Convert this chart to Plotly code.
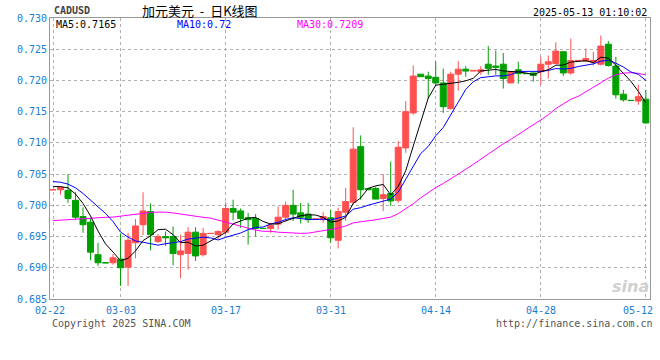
import plotly.graph_objects as go
import pandas as pd

# ---------------- data ----------------
dates = pd.date_range("2025-02-22", "2025-05-12", freq="D").strftime("%m-%d").tolist()

open_ = [0.7025, 0.7025, 0.7024, 0.7008, 0.6982, 0.6973, 0.6921, 0.6908, 0.6908, 0.6914,
         0.6901, 0.6940, 0.6969, 0.6990, 0.6942, 0.6950, 0.6950, 0.6921, 0.6923, 0.6957,
         0.6921, 0.6955, 0.6953, 0.6957, 0.6995, 0.6991, 0.6980, 0.6979, 0.6963, 0.6963,
         0.6970, 0.6981, 0.7000, 0.6988, 0.6986, 0.6978, 0.6977, 0.6980, 0.6944, 0.6989,
         0.7005, 0.7094, 0.7027, 0.7027, 0.7011, 0.7019, 0.7008, 0.7092, 0.7148, 0.7210,
         0.7207, 0.7205, 0.7196, 0.7155, 0.7210, 0.7218, 0.7215, 0.7214, 0.7226, 0.7223,
         0.7226, 0.7196, 0.7217, 0.7211, 0.7212, 0.7214, 0.7226, 0.7227, 0.7246, 0.7212,
         0.7232, 0.7231, 0.7229, 0.7226, 0.7258, 0.7223, 0.7178, 0.7168, 0.7167, 0.7170]
high = [0.7025, 0.7030, 0.7050, 0.7021, 0.6997, 0.6980, 0.6940, 0.6908, 0.6922, 0.6955,
        0.6956, 0.6978, 0.7021, 0.7003, 0.6954, 0.6958, 0.6966, 0.6953, 0.6965, 0.6965,
        0.6964, 0.6955, 0.6960, 0.7005, 0.7009, 0.6995, 0.6988, 0.6986, 0.6963, 0.6972,
        0.6998, 0.7006, 0.7025, 0.7004, 0.7004, 0.6978, 0.6989, 0.6993, 0.6996, 0.7028,
        0.7125, 0.7112, 0.7028, 0.7030, 0.7050, 0.7070, 0.7103, 0.7167, 0.7224, 0.7210,
        0.7214, 0.7230, 0.7219, 0.7214, 0.7231, 0.7223, 0.7216, 0.7223, 0.7255, 0.7248,
        0.7244, 0.7215, 0.7230, 0.7211, 0.7213, 0.7238, 0.7240, 0.7261, 0.7247, 0.7267,
        0.7232, 0.7251, 0.7246, 0.7272, 0.7263, 0.7238, 0.7185, 0.7168, 0.7193, 0.7185]
low = [0.7025, 0.7017, 0.7004, 0.6977, 0.6956, 0.6912, 0.6903, 0.6908, 0.6905, 0.6871,
       0.6871, 0.6915, 0.6952, 0.6928, 0.6940, 0.6935, 0.6904, 0.6883, 0.6897, 0.6911,
       0.6918, 0.6955, 0.6945, 0.6953, 0.6976, 0.6964, 0.6937, 0.6950, 0.6963, 0.6956,
       0.6961, 0.6974, 0.6975, 0.6971, 0.6972, 0.6978, 0.6972, 0.6940, 0.6931, 0.6975,
       0.7001, 0.7009, 0.7024, 0.7010, 0.6991, 0.6999, 0.7004, 0.7084, 0.7145, 0.7206,
       0.7171, 0.7192, 0.7148, 0.7153, 0.7184, 0.7206, 0.7215, 0.7209, 0.7209, 0.7209,
       0.7187, 0.7196, 0.7195, 0.7211, 0.7198, 0.7193, 0.7203, 0.7226, 0.7207, 0.7209,
       0.7232, 0.7229, 0.7224, 0.7224, 0.7222, 0.7171, 0.7166, 0.7168, 0.7161, 0.7131]
close = [0.7025, 0.7029, 0.7011, 0.6981, 0.6969, 0.6925, 0.6908, 0.6908, 0.6916, 0.6900,
         0.6944, 0.6967, 0.6991, 0.6953, 0.6950, 0.6948, 0.6923, 0.6927, 0.6957, 0.6919,
         0.6955, 0.6955, 0.6958, 0.6995, 0.6989, 0.6979, 0.6977, 0.6963, 0.6963, 0.6968,
         0.6981, 0.7000, 0.6986, 0.6981, 0.6977, 0.6978, 0.6982, 0.6948, 0.6990, 0.7006,
         0.7090, 0.7025, 0.7025, 0.7010, 0.7017, 0.7007, 0.7093, 0.7150, 0.7207, 0.7206,
         0.7203, 0.7196, 0.7158, 0.7210, 0.7218, 0.7215, 0.7216, 0.7217, 0.7219, 0.7221,
         0.7203, 0.7214, 0.7211, 0.7211, 0.7208, 0.7226, 0.7230, 0.7247, 0.7212, 0.7232,
         0.7232, 0.7235, 0.7232, 0.7255, 0.7224, 0.7177, 0.7169, 0.7168, 0.7174, 0.7132]

# moving-average values before enough history is inside the window
ma5_head = [0.7030, 0.7030, 0.7028, 0.7018]
ma10_head = [0.7038, 0.7037, 0.7034, 0.7028, 0.7019, 0.7008, 0.6997, 0.6987, 0.6974]
ma30_head = [0.69755, 0.69763, 0.69771, 0.69782, 0.69795, 0.69803, 0.69803, 0.69808,
             0.69812, 0.69827, 0.69843, 0.69867, 0.69883, 0.69887, 0.69891, 0.69891,
             0.69878, 0.69859, 0.69835, 0.69819, 0.69808, 0.69795, 0.69763, 0.69723,
             0.69691, 0.69659, 0.69627, 0.69603, 0.69584]

tick_labels = ["02-22", "03-03", "03-17", "03-31", "04-14", "04-28", "05-12"]
y_ticks = [0.685, 0.690, 0.695, 0.700, 0.705, 0.710, 0.715, 0.720, 0.725, 0.730]

symbol = "CADUSD"
title_text = "加元美元\u00a0\u00a0-\u00a0\u00a0日K线图"
stamp = "2025-05-13 01:10:02"
ma_labels = ["MA5:0.7165", "MA10:0.72", "MA30:0.7209"]
copyright_text = "Copyright 2025 SINA.COM"
url_text = "http://finance.sina.com.cn"

# ---------------- helpers ----------------
n = len(close)
xs = list(range(n))


def moving_average(head, k):
    out = []
    for i in range(n):
        if i < len(head):
            out.append(head[i])
        else:
            out.append(sum(close[i - k + 1:i + 1]) / k)
    return out


ma5 = moving_average(ma5_head, 5)
ma10 = moving_average(ma10_head, 10)
ma30 = moving_average(ma30_head, 30)

UP = "#ff5050"
DOWN = "#00a000"
MONO = "DejaVu Sans Mono"
AXBLUE = "#1a7dd0"

fig = go.Figure()
fig.add_trace(go.Candlestick(
    x=xs, open=open_, high=high, low=low, close=close,
    increasing=dict(line=dict(color=UP, width=1), fillcolor=UP),
    decreasing=dict(line=dict(color=DOWN, width=1), fillcolor=DOWN),
    whiskerwidth=0, showlegend=False, hoverinfo="skip"))
fig.add_trace(go.Scatter(x=xs, y=ma30, mode="lines", line=dict(color="#ff00ff", width=1),
                         showlegend=False, hoverinfo="skip"))
fig.add_trace(go.Scatter(x=xs, y=ma10, mode="lines", line=dict(color="#0000ff", width=1),
                         showlegend=False, hoverinfo="skip"))
fig.add_trace(go.Scatter(x=xs, y=ma5, mode="lines", line=dict(color="#000000", width=1),
                         showlegend=False, hoverinfo="skip"))

tick_idx = [dates.index(t) for t in tick_labels]

fig.update_layout(
    width=660, height=360,
    margin=dict(l=50, r=10, t=18, b=61),
    paper_bgcolor="white", plot_bgcolor="white",
    boxgap=0.2, boxgroupgap=0,
    xaxis=dict(range=[-0.4, 79.55], tickvals=tick_idx, showticklabels=False,
               showgrid=True, gridcolor="#b0b0b0", griddash="dot", gridwidth=1,
               zeroline=False, showline=True, linecolor="#999999", mirror=True,
               rangeslider=dict(visible=False), fixedrange=True),
    yaxis=dict(range=[0.685, 0.730], tickvals=y_ticks, tickformat=".3f",
               tickfont=dict(family=MONO, size=10, color=AXBLUE),
               showgrid=True, gridcolor="#b0b0b0", griddash="dot", gridwidth=1,
               zeroline=False, showline=True, linecolor="#999999", mirror=True,
               ticks="", ticklen=0, fixedrange=True),
    font=dict(family=MONO),
)

# plot area in px: x 50..650, y 18..299
def px(xp):
    return (xp - 50) / 600.0


def py(yp):
    return (299 - yp) / 281.0


ann = []
for k, (t, i) in enumerate(zip(tick_labels, tick_idx)):
    shift = -3 if k == 0 else (-8 if k == len(tick_labels) - 1 else 0)
    ann.append(dict(x=i, y=py(310), xref="x", yref="paper", text=t, showarrow=False,
                    xanchor="center", yanchor="middle", xshift=shift,
                    font=dict(family=MONO, size=10, color=AXBLUE)))
ann.append(dict(x=px(52), y=py(11), xref="paper", yref="paper", text="<b>" + symbol + "</b>",
                showarrow=False, xanchor="left", yanchor="middle",
                font=dict(family=MONO, size=10, color="#444444")))
ann.append(dict(x=px(200), y=py(10.5), xref="paper", yref="paper", text=title_text,
                showarrow=False, xanchor="center", yanchor="middle",
                font=dict(family="Noto Sans CJK SC", size=13, color="#000000")))
ann.append(dict(x=px(649), y=py(12), xref="paper", yref="paper", text=stamp,
                showarrow=False, xanchor="right", yanchor="middle",
                font=dict(family=MONO, size=10, color="#000000")))
for lbl, xl, col in zip(ma_labels, [54, 175, 295], ["#000000", "#0000ff", "#ff00ff"]):
    ann.append(dict(x=px(xl), y=py(24), xref="paper", yref="paper", text=lbl,
                    showarrow=False, xanchor="left", yanchor="middle",
                    font=dict(family=MONO, size=10, color=col)))
ann.append(dict(x=px(50), y=py(323), xref="paper", yref="paper", text=copyright_text,
                showarrow=False, xanchor="left", yanchor="middle",
                font=dict(family=MONO, size=10, color="#555555")))
ann.append(dict(x=px(655), y=py(323), xref="paper", yref="paper", text=url_text,
                showarrow=False, xanchor="right", yanchor="middle",
                font=dict(family=MONO, size=10, color="#555555")))
ann.append(dict(x=px(630), y=py(286), xref="paper", yref="paper", text="<i><b>sina</b></i>",
                showarrow=False, xanchor="center", yanchor="middle",
                font=dict(family="DejaVu Sans", size=16, color="#d0d0d0")))
fig.update_layout(annotations=ann)

fig.write_html("out.html", config={"displayModeBar": False},
               post_script="document.body.style.margin='0';document.body.style.padding='0';")
